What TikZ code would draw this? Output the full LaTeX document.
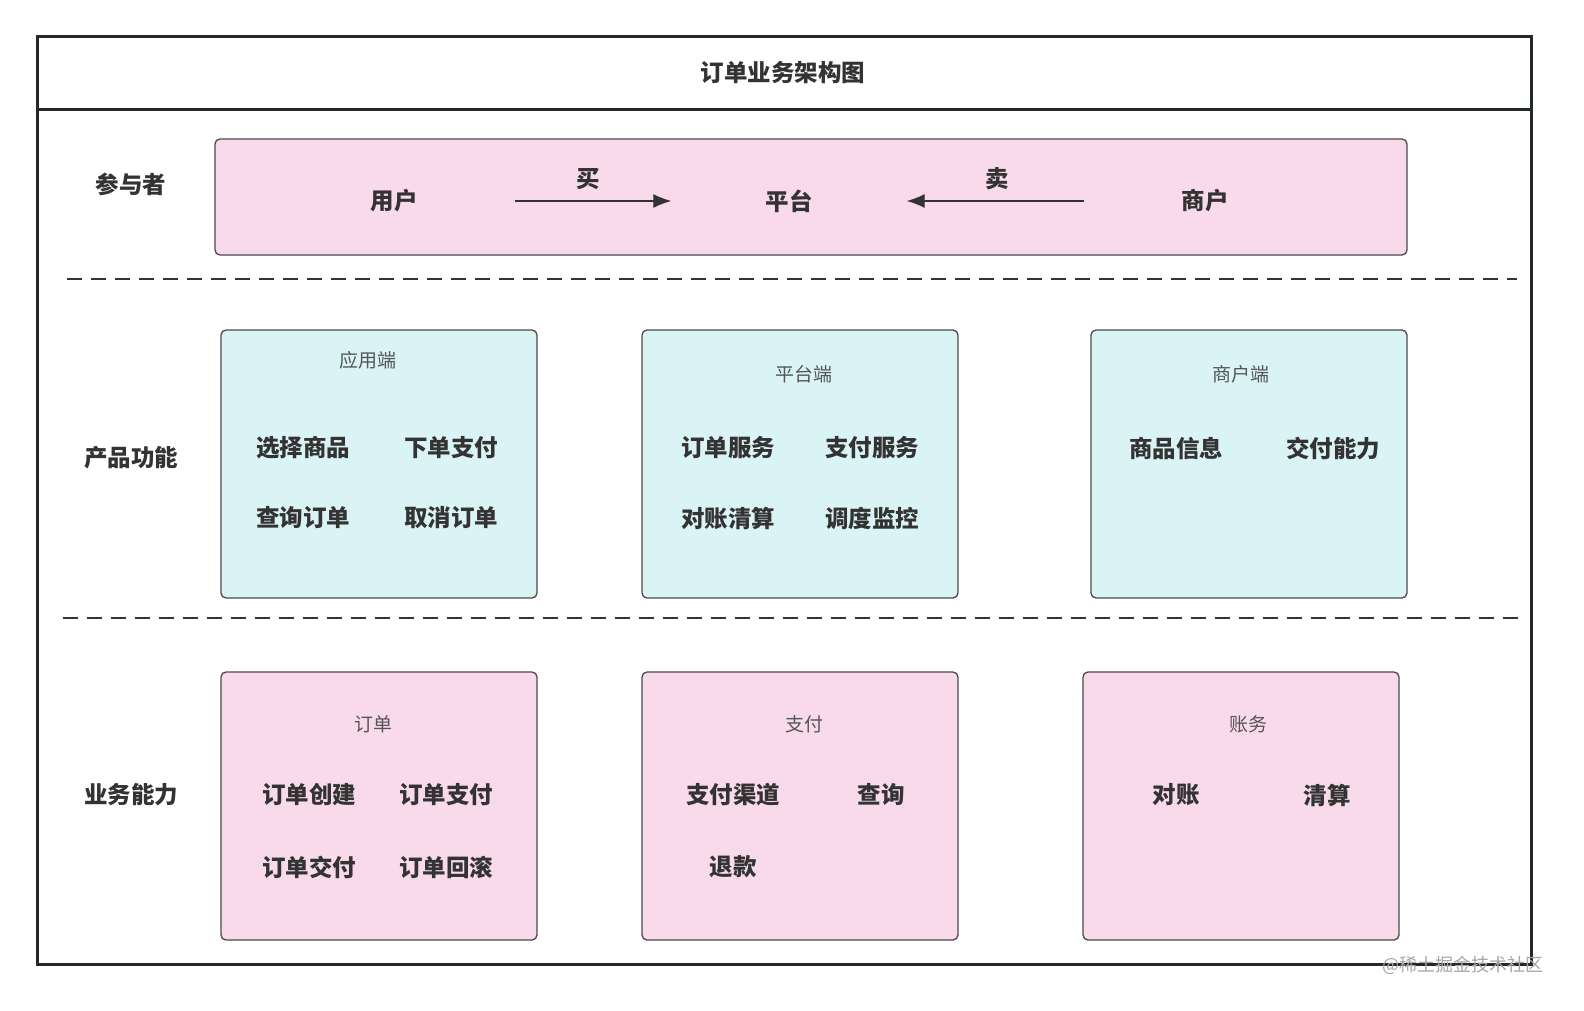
\documentclass[tikz,border=0pt]{standalone}
\usepackage{fontspec}
\setmainfont{Noto Sans CJK SC}
\usetikzlibrary{arrows.meta}
\definecolor{ink}{HTML}{333333}
\definecolor{subink}{HTML}{555555}
\definecolor{pinkfill}{HTML}{F9DAEA}
\definecolor{cyanfill}{HTML}{DAF4F5}
\definecolor{boxline}{HTML}{4A4A4A}
\definecolor{frameline}{HTML}{232829}
\begin{document}
\begin{tikzpicture}[x=1pt,y=-1pt,
  lbl/.style={font=\fontsize{23.5}{23.5}\selectfont\bfseries, text=ink, inner sep=0pt},
  sub/.style={font=\fontsize{19}{19}\selectfont, text=subink, inner sep=0pt},
  card/.style={draw=boxline, line width=1.3pt, rounded corners=5pt, inner sep=0pt},
  pinkcard/.style={card, fill=pinkfill},
  cyancard/.style={card, fill=cyanfill},
  sep/.style={draw=ink, line width=1.8pt, dash pattern=on 15pt off 9pt},
  flow/.style={draw=ink, line width=1.2pt, -{Latex[length=18pt,width=14pt]}},
  wmark/.style={font=\fontsize{18}{18}\selectfont, text=black!35, inner sep=0pt}
]
\useasboundingbox (0,0) rectangle (1584,1011);
\fill[white] (0,0) rectangle (1584,1011);

% frame
\draw[frameline, line width=3pt] (37,37) rectangle (1531,964);
\draw[frameline, line width=3pt] (37,110) -- (1531,110);
\node[lbl] (title) at (783,73) {订单业务架构图};

% row labels
\node[lbl] (rowA) at (131,184) {参与者};
\node[lbl] (rowB) at (131,458) {产品功能};
\node[lbl] (rowC) at (131,795) {业务能力};

% participants
\node[pinkcard, minimum width=1192pt, minimum height=116pt] (actors) at (811,197) {};
\node[lbl] (user) at (394,201) {用户};
\node[lbl] (platform) at (789,201) {平台};
\node[lbl] (merchant) at (1205,201) {商户};
\draw[flow, shorten <=97pt, shorten >=94pt] (user) -- (platform);
\draw[flow, shorten <=97pt, shorten >=94pt] (merchant) -- (platform);
\node[lbl] (buy) at (588,179) {买};
\node[lbl] (sell) at (997,179) {卖};

% separators
\coordinate (s1a) at (67,279); \coordinate (s1b) at (1517,279);
\coordinate (s2a) at (63,618); \coordinate (s2b) at (1519,618);
\draw[sep] (s1a) -- (s1b);
\draw[sep] (s2a) -- (s2b);

% product functions
\node[cyancard, minimum width=316pt, minimum height=268pt] (app) at (379,464) {};
\node[sub] (appT) at (368,360) {应用端};
\node[lbl] (a1) at (303,448) {选择商品};
\node[lbl] (a2) at (451,448) {下单支付};
\node[lbl] (a3) at (303,518) {查询订单};
\node[lbl] (a4) at (451,518) {取消订单};

\node[cyancard, minimum width=316pt, minimum height=268pt] (plat) at (800,464) {};
\node[sub] (platT) at (804,374) {平台端};
\node[lbl] (p1) at (728,448) {订单服务};
\node[lbl] (p2) at (872,448) {支付服务};
\node[lbl] (p3) at (728,518) {对账清算};
\node[lbl] (p4) at (872,518) {调度监控};

\node[cyancard, minimum width=316pt, minimum height=268pt] (merc) at (1249,464) {};
\node[sub] (mercT) at (1241,374) {商户端};
\node[lbl] (m1) at (1176,448) {商品信息};
\node[lbl] (m2) at (1333,448) {交付能力};

% business capabilities
\node[pinkcard, minimum width=316pt, minimum height=268pt] (order) at (379,806) {};
\node[sub] (orderT) at (373,724) {订单};
\node[lbl] (o1) at (309,795) {订单创建};
\node[lbl] (o2) at (446,795) {订单支付};
\node[lbl] (o3) at (309,867) {订单交付};
\node[lbl] (o4) at (446,867) {订单回滚};

\node[pinkcard, minimum width=316pt, minimum height=268pt] (pay) at (800,806) {};
\node[sub] (payT) at (804,724) {支付};
\node[lbl] (q1) at (733,795) {支付渠道};
\node[lbl] (q2) at (881,795) {查询};
\node[lbl] (q3) at (733,867) {退款};

\node[pinkcard, minimum width=316pt, minimum height=268pt] (acct) at (1241,806) {};
\node[sub] (acctT) at (1248,724) {账务};
\node[lbl] (c1) at (1176,795) {对账};
\node[lbl] (c2) at (1327,795) {清算};

% watermark
\node[wmark] (wm) at (1463,965) {@稀土掘金技术社区};
\end{tikzpicture}
\end{document}
